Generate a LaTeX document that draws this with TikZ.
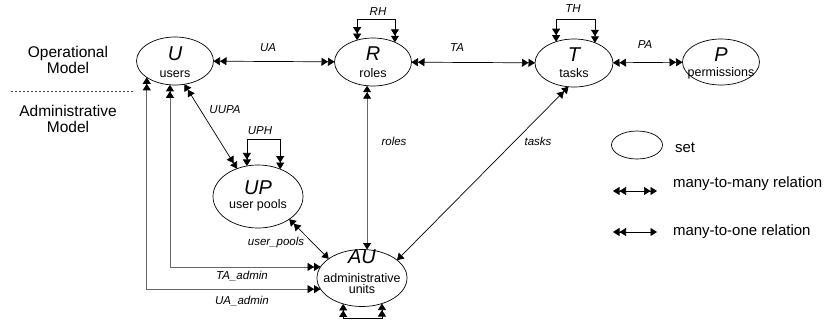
\documentclass[tikz,border=0pt]{standalone}
\usepackage{fontspec}
\setmainfont{Liberation Sans}
\usetikzlibrary{arrows.meta,shapes.geometric}

\tikzset{
  every node/.style={inner sep=0pt, outer sep=0pt},
  set/.style 2 args={draw, ellipse, line width=0.7pt, minimum width=#1, minimum height=#2},
  big/.style={anchor=base, font=\fontsize{20}{24}\selectfont\itshape},
  sub/.style={anchor=base, font=\fontsize{12.5}{13}\selectfont},
  lbl/.style={font=\fontsize{11.5}{13}\selectfont\itshape},
  side/.style={font=\fontsize{15.5}{16}\selectfont, align=center},
  leg/.style={anchor=west, font=\fontsize{15}{18}\selectfont},
  rel/.style={line width=0.7pt, >={Triangle[length=6.5pt,width=8pt]}},
  grel/.style={line width=0.8pt, draw=black!60, >={Triangle[length=6.5pt,width=8pt,color=black]}},
}

\begin{document}
\begin{tikzpicture}[x=1pt,y=-1pt]
\useasboundingbox (0,0) rectangle (825,322);

% model headings and divider
\node[side] (op) at (68,60) {Operational\\Model};
\node[side] (adm) at (68,118.5) {Administrative\\Model};
\coordinate (divA) at (11,91);
\coordinate (divB) at (133,91);
\draw[black!70, line width=0.6pt, dash pattern=on 2pt off 2pt] (divA) -- (divB);

% sets
\node[set={77pt}{48pt}] (U) at (175,61) {};
\node[set={77pt}{48pt}] (R) at (373,62) {};
\node[set={78pt}{48pt}] (T) at (574,63) {};
\node[set={77pt}{46pt}] (P) at (721,62) {};
\node[set={90pt}{63pt}] (UP) at (258,196.5) {};
\node[set={90pt}{57pt}] (AU) at (362,278) {};

% set names
\node[big] (Ut) at (175,60) {U};
\node[sub] (Us) at (175,77) {users};
\node[big] (Rt) at (373,60) {R};
\node[sub] (Rs) at (373,77) {roles};
\node[big] (Tt) at (574,61) {T};
\node[sub] (Ts) at (574,77) {tasks};
\node[big] (Pt) at (721,61) {P};
\node[sub] (Ps) at (721,76) {permissions};
\node[big] (UPt) at (258,194.5) {UP};
\node[sub] (UPs) at (258,208.5) {user pools};
\node[big] (AUt) at (362,263) {AU};
\node[sub] (AUs) at (362,282) {administrative};
\node[sub] (AUu) at (362,293.5) {units};

% operational relations
\draw[rel, <<->>] (U) -- (R);
\draw[rel, <<->>] (R) -- (T);
\draw[rel, <<->>] (T) -- (P);
\node[lbl] (lUA) at (268,47.5) {UA};
\node[lbl] (lTA) at (457,48) {TA};
\node[lbl] (lPA) at (645,45) {PA};

% hierarchies
\coordinate (RHtop) at (373,19);
\draw[rel, <<->>] (R.126) -- (R.126 |- RHtop) -| (R.42);
\node[lbl] (lRH) at (378,12) {RH};
\coordinate (THtop) at (574,19);
\draw[rel, <<->>] (T.130) -- (T.130 |- THtop) -| (T.44);
\node[lbl] (lTH) at (573,9) {TH};
\coordinate (UPHtop) at (258,139);
\draw[rel, <<->>] (UP.110) -- (UP.110 |- UPHtop) -| (UP.51);
\node[lbl] (lUPH) at (260,131) {UPH};
\coordinate (AUbot) at (362,318);
\draw[rel, <<->>] (AU.234) -- (AU.234 |- AUbot) -| (AU.308);

% administrative relations
\draw[rel, <<->>] (U.292) -- (UP.127);
\node[lbl] (lUUPA) at (225,110) {UUPA};
\draw[grel, <<->] (R.256) -- (R.256 |- AU.north);
\node[lbl] (lroles) at (394,141) {roles};
\draw[rel, <<->] (T.257) -- (AU.27);
\node[lbl] (ltasks) at (538,141.5) {tasks};
\draw[rel, <<->] (UP.324) -- (AU.150);
\node[lbl] (lpools) at (276,243) {user\_pools};
\draw[grel, <<->>] (U.258) |- (AU.165);
\node[lbl] (lTAadm) at (242,276) {TA\_admin};
\draw[grel, <<->>] (U.210.5) |- (AU.195);
\node[lbl] (lUAadm) at (242,301) {UA\_admin};

% key
\node[set={51pt}{28pt}] (key) at (637,145) {};
\node[leg] (keyset) at (675,148) {set};
\coordinate (mmA) at (613,191);
\coordinate (mmB) at (657,191);
\draw[rel, <<->>] (mmA) -- (mmB);
\node[leg] (keymm) at (673,183.5) {many-to-many relation};
\coordinate (moA) at (613,232);
\coordinate (moB) at (657,232);
\draw[rel, <<->] (moA) -- (moB);
\node[leg] (keymo) at (673,231.5) {many-to-one relation};
\end{tikzpicture}
\end{document}
